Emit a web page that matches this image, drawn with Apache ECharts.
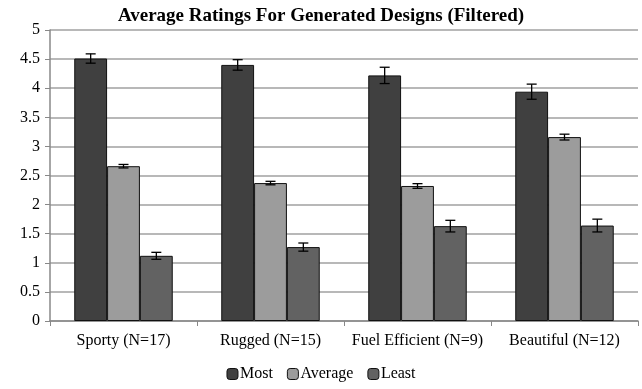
<!DOCTYPE html>
<html><head><meta charset="utf-8">
<script src="https://cdn.jsdelivr.net/npm/echarts@6/dist/echarts.min.js"></script>
<style>html,body{margin:0;padding:0;background:#fff}#c{width:642px;height:389px}</style>
</head><body><div id="c"></div>
<script>
var categories = ['Sporty (N=17)', 'Rugged (N=15)', 'Fuel Efficient (N=9)', 'Beautiful (N=12)'];
var seriesNames = ['Most', 'Average', 'Least'];
var mostValues = [4.51, 4.40, 4.22, 3.94];
var averageValues = [2.66, 2.37, 2.32, 3.16];
var leastValues = [1.12, 1.27, 1.63, 1.64];
var mostErr = [0.08, 0.09, 0.14, 0.13];
var averageErr = [0.03, 0.03, 0.04, 0.05];
var leastErr = [0.06, 0.07, 0.10, 0.11];
var yTicks = [0, 0.5, 1, 1.5, 2, 2.5, 3, 3.5, 4, 4.5, 5];

var colors = ['#404040', '#9c9c9c', '#626262'];
var values = [mostValues, averageValues, leastValues];
var errs = [mostErr, averageErr, leastErr];
var catGap = 0.33;
var font = 'Liberation Serif';

function errSeries(k) {
  var data = values[k].map(function (v, i) { return [i, v, errs[k][i]]; });
  return {
    type: 'custom', silent: true, z: 10,
    renderItem: function (params, api) {
      var i = api.value(0), v = api.value(1), e = api.value(2);
      var band = api.size([1, 0])[0];
      var bw = band * (1 - catGap) / 3;
      var c = api.coord([i, v]);
      var x = c[0] + (k - 1) * bw;
      var yt = api.coord([i, v + e])[1], yb = api.coord([i, v - e])[1];
      var cap = 5;
      var st = { stroke: '#000', lineWidth: 1.3 };
      return { type: 'group', children: [
        { type: 'line', shape: { x1: x, y1: yt, x2: x, y2: yb }, style: st },
        { type: 'line', shape: { x1: x - cap, y1: yt, x2: x + cap, y2: yt }, style: st },
        { type: 'line', shape: { x1: x - cap, y1: yb, x2: x + cap, y2: yb }, style: st }
      ]};
    },
    data: data
  };
}

var series = [];
for (var k = 0; k < 3; k++) {
  series.push({
    name: seriesNames[k], type: 'bar', data: values[k],
    barGap: '0%', barCategoryGap: (catGap * 100) + '%',
    itemStyle: { color: colors[k], borderColor: '#111', borderWidth: 1 }
  });
}
for (var k = 0; k < 3; k++) series.push(errSeries(k));

var chart = echarts.init(document.getElementById('c'), null, { renderer: 'canvas' });
chart.setOption({
  animation: false,
  backgroundColor: '#fff',
  title: {
    text: 'Average Ratings For Generated Designs (Filtered)',
    left: 'center', top: 2,
    textStyle: { fontFamily: font, fontWeight: 'bold', fontSize: 19, color: '#000' }
  },
  legend: {
    data: seriesNames, bottom: 2, left: 'center',
    itemWidth: 11, itemHeight: 11, itemGap: 14,
    textStyle: { fontFamily: font, fontSize: 16, color: '#000', padding: [0, 0, 0, -3] },
    itemStyle: { borderColor: '#111', borderWidth: 1 }
  },
  grid: { left: 50, right: 4, top: 30, bottom: 68, containLabel: false },
  xAxis: {
    type: 'category', data: categories,
    axisLine: { lineStyle: { color: '#888', width: 1.5 } },
    axisTick: { show: true, length: 5, lineStyle: { color: '#888' } },
    axisLabel: { fontFamily: font, fontSize: 16, color: '#000', margin: 12, interval: 0 }
  },
  yAxis: {
    type: 'value', min: 0, max: 5, interval: 0.5,
    axisLine: { show: true, lineStyle: { color: '#888', width: 1.5 } },
    axisTick: { show: true, length: 5, inside: false, lineStyle: { color: '#888' } },
    splitLine: { lineStyle: { color: '#a0a0a0', width: 1.5 } },
    axisLabel: { fontFamily: font, fontSize: 16, color: '#000', margin: 10,
      formatter: function (v) { return yTicks.indexOf(v) >= 0 ? String(v) : ''; } }
  },
  series: series
});
</script></body></html>
